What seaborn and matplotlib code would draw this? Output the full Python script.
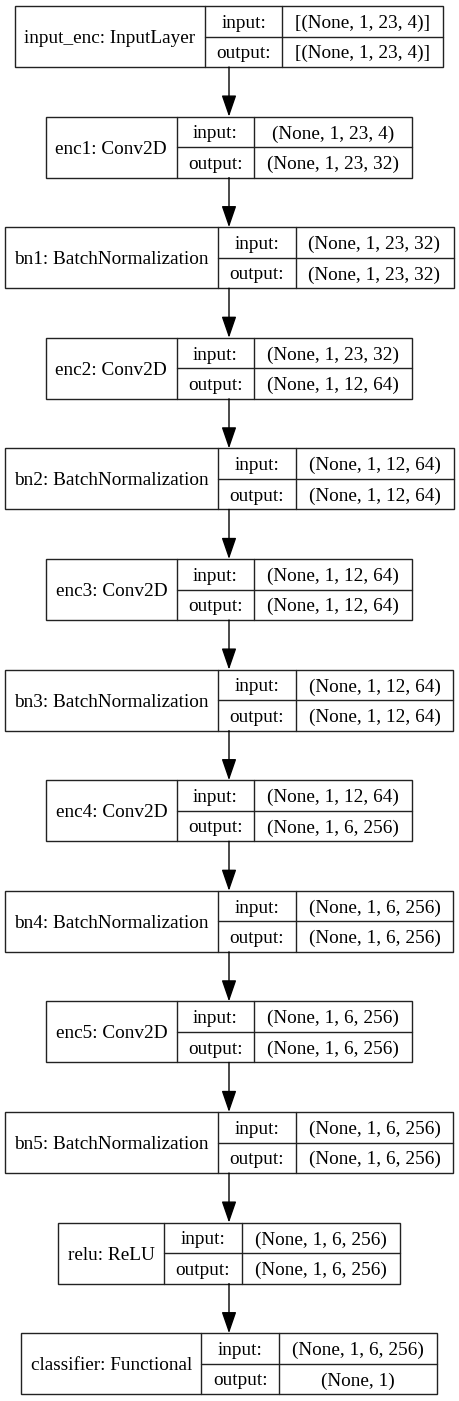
import numpy as np
import pandas as pd
from matplotlib import pyplot as plt
import matplotlib.patches as patches
import seaborn as sns

# Layers of the model, top to bottom
layer_names = ['input_enc', 'enc1', 'bn1', 'enc2', 'bn2', 'enc3', 'bn3',
               'enc4', 'bn4', 'enc5', 'bn5', 'relu', 'classifier']
layer_types = ['InputLayer', 'Conv2D', 'BatchNormalization', 'Conv2D',
               'BatchNormalization', 'Conv2D', 'BatchNormalization', 'Conv2D',
               'BatchNormalization', 'Conv2D', 'BatchNormalization', 'ReLU',
               'Functional']
input_shapes = ['[(None, 1, 23, 4)]', '(None, 1, 23, 4)', '(None, 1, 23, 32)',
                '(None, 1, 23, 32)', '(None, 1, 12, 64)', '(None, 1, 12, 64)',
                '(None, 1, 12, 64)', '(None, 1, 12, 64)', '(None, 1, 6, 256)',
                '(None, 1, 6, 256)', '(None, 1, 6, 256)', '(None, 1, 6, 256)',
                '(None, 1, 6, 256)']
output_shapes = ['[(None, 1, 23, 4)]', '(None, 1, 23, 32)', '(None, 1, 23, 32)',
                 '(None, 1, 12, 64)', '(None, 1, 12, 64)', '(None, 1, 12, 64)',
                 '(None, 1, 12, 64)', '(None, 1, 6, 256)', '(None, 1, 6, 256)',
                 '(None, 1, 6, 256)', '(None, 1, 6, 256)', '(None, 1, 6, 256)',
                 '(None, 1)']

layers = pd.DataFrame({'name': layer_names, 'type': layer_types,
                       'input': input_shapes, 'output': output_shapes})

sns.set_theme(style='white')
plt.rcParams['font.family'] = ['Liberation Serif', 'DejaVu Serif']

W, H = 459, 1401
fig = plt.figure(figsize=(W / 100, H / 100), dpi=100)
ax = fig.add_axes([0, 0, 1, 1])
ax.set_xlim(0, W)
ax.set_ylim(H, 0)
ax.axis('off')

font_size = 13.9
line_w = 1.0
line_c = '#222222'
renderer = fig.canvas.get_renderer()

def text_width(s):
    t = ax.text(0, 0, s, fontsize=font_size)
    w = t.get_window_extent(renderer=renderer).width
    t.remove()
    return w

center_x = 229
top0 = 6
step = 110.6
box_h = 61
pad_label = 19
pad_io = 23
pad_shape = 26

for i, row in layers.iterrows():
    label = f"{row['name']}: {row['type']}"
    w_label = text_width(label) + pad_label
    w_io = max(text_width('input:'), text_width('output:')) + pad_io
    w_shape = max(text_width(row['input']), text_width(row['output'])) + pad_shape
    total = w_label + w_io + w_shape
    x0 = center_x - total / 2
    y0 = top0 + i * step
    mid = y0 + box_h / 2

    # outer box and cell dividers
    ax.add_patch(patches.Rectangle((x0, y0), total, box_h, fill=False,
                                   edgecolor=line_c, linewidth=line_w))
    x1 = x0 + w_label
    x2 = x1 + w_io
    ax.plot([x1, x1], [y0, y0 + box_h], color=line_c, lw=line_w)
    ax.plot([x2, x2], [y0, y0 + box_h], color=line_c, lw=line_w)
    ax.plot([x1, x0 + total], [mid, mid], color=line_c, lw=line_w)

    # texts
    ax.text(x0 + w_label / 2, mid, label, fontsize=font_size,
            ha='center', va='center_baseline', color='black')
    ax.text(x1 + w_io / 2, y0 + box_h / 4, 'input:', fontsize=font_size,
            ha='center', va='center_baseline', color='black')
    ax.text(x1 + w_io / 2, y0 + 3 * box_h / 4, 'output:', fontsize=font_size,
            ha='center', va='center_baseline', color='black')
    ax.text(x2 + w_shape / 2, y0 + box_h / 4, row['input'], fontsize=font_size,
            ha='center', va='center_baseline', color='black')
    ax.text(x2 + w_shape / 2, y0 + 3 * box_h / 4, row['output'], fontsize=font_size,
            ha='center', va='center_baseline', color='black')

    # arrow to the next layer
    if i < len(layers) - 1:
        ax.annotate('', xy=(center_x, top0 + (i + 1) * step),
                    xytext=(center_x, y0 + box_h),
                    arrowprops=dict(arrowstyle='-|>,head_length=1.1,head_width=0.38',
                                    color='black', lw=line_w,
                                    shrinkA=0, shrinkB=0))

fig.savefig('out.png', dpi=100, facecolor='white')
